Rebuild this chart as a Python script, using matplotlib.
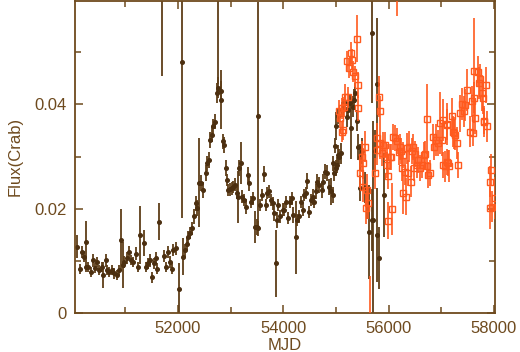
import matplotlib
matplotlib.use("Agg")
import matplotlib.pyplot as plt
from matplotlib.ticker import MultipleLocator, FixedLocator, FuncFormatter

plt.rcParams['font.family'] = ['Liberation Sans', 'DejaVu Sans']

# brown series (long-term monitor, ends ~MJD 55900)
asm_mjd = [50075, 50138, 50176, 50214, 50246, 50252, 50296, 50341, 50379, 50423,
           50467, 50505, 50550, 50581, 50626, 50657, 50695, 50740, 50784, 50835,
           50879, 50917, 50949, 50980, 51025, 51075, 51107, 51151, 51202, 51246,
           51278, 51354, 51392, 51436, 51468, 51500, 51544, 51582, 51607, 51645,
           51734, 51772, 51810, 51848, 51880, 51911, 51962, 52025, 52070, 52101,
           52133, 52165, 52196, 52228, 52260, 52304, 52336, 52367, 52399, 52431,
           52475, 52526, 52557, 52589, 52608, 52640, 52671, 52703, 52735, 52766,
           52811, 52817, 52861, 52880, 52912, 52937, 52956, 52988, 53020, 53051,
           53083, 53115, 53134, 53159, 53191, 53210, 53254, 53292, 53324, 53355,
           53387, 53419, 53463, 53495, 53514, 53526, 53558, 53590, 53634, 53672,
           53697, 53735, 53767, 53799, 53830, 53856, 53875, 53906, 53938, 53989,
           54014, 54052, 54096, 54128, 54160, 54191, 54236, 54267, 54299, 54337,
           54369, 54400, 54432, 54457, 54495, 54527, 54559, 54584, 54622, 54647,
           54685, 54730, 54749, 54793, 54825, 54875, 54907, 54939, 54951, 54964,
           54983, 54996, 55002, 55027, 55046, 55046, 55065, 55091, 55110, 55141,
           55173, 55205, 55236, 55268, 55281, 55319, 55344, 55363, 55395, 55426,
           55458, 55490, 55458, 55553, 55597, 55635, 55680, 55686, 55711, 55743,
           55775, 55787, 55825, 55914, 51702, 52766]
asm_flux = [0.0127, 0.0084, 0.0117, 0.0108, 0.0137, 0.0088, 0.0088, 0.0079, 0.0101, 0.0086,
            0.0098, 0.0082, 0.0088, 0.0073, 0.0101, 0.0082, 0.0079, 0.0082, 0.0076, 0.0073,
            0.0082, 0.0140, 0.0092, 0.0098, 0.0105, 0.0117, 0.0101, 0.0098, 0.0114, 0.0088,
            0.0149, 0.0135, 0.0088, 0.0095, 0.0101, 0.0068, 0.0095, 0.0105, 0.0085, 0.0175,
            0.0109, 0.0088, 0.0117, 0.0098, 0.0085, 0.0121, 0.0124, 0.0045, 0.0482, 0.0108,
            0.0120, 0.0133, 0.0146, 0.0153, 0.0162, 0.0185, 0.0210, 0.0201, 0.0250, 0.0249,
            0.0236, 0.0268, 0.0287, 0.0294, 0.0332, 0.0342, 0.0358, 0.0367, 0.0422, 0.0432,
            0.0425, 0.0409, 0.0329, 0.0322, 0.0278, 0.0255, 0.0236, 0.0237, 0.0239, 0.0242,
            0.0246, 0.0230, 0.0223, 0.0278, 0.0287, 0.0223, 0.0217, 0.0204, 0.0265, 0.0249,
            0.0213, 0.0220, 0.0165, 0.0165, 0.0377, 0.0162, 0.0207, 0.0226, 0.0267, 0.0207,
            0.0230, 0.0233, 0.0217, 0.0210, 0.0191, 0.0095, 0.0178, 0.0207, 0.0185, 0.0198,
            0.0198, 0.0213, 0.0182, 0.0213, 0.0220, 0.0188, 0.0145, 0.0178, 0.0185, 0.0213,
            0.0198, 0.0226, 0.0230, 0.0253, 0.0194, 0.0217, 0.0223, 0.0213, 0.0233, 0.0252,
            0.0246, 0.0236, 0.0252, 0.0271, 0.0268, 0.0242, 0.0233, 0.0226, 0.0287, 0.0268,
            0.0321, 0.0359, 0.0278, 0.0284, 0.0303, 0.0378, 0.0300, 0.0306, 0.0390, 0.0395,
            0.0403, 0.0376, 0.0390, 0.0403, 0.0355, 0.0396, 0.0409, 0.0422, 0.0369, 0.0319,
            0.0300, 0.0310, 0.0239, 0.0240, 0.0211, 0.0156, 0.0178, 0.0537, 0.0178, 0.0310,
            0.0150, 0.0439, 0.0105, 0.0226, 0.0800, 0.0750]
asm_err = [0.0022, 0.0010, 0.0012, 0.0010, 0.0040, 0.0010, 0.0010, 0.0010, 0.0012, 0.0010,
           0.0010, 0.0010, 0.0010, 0.0025, 0.0012, 0.0010, 0.0010, 0.0010, 0.0010, 0.0010,
           0.0010, 0.0060, 0.0045, 0.0012, 0.0012, 0.0012, 0.0010, 0.0010, 0.0012, 0.0010,
           0.0056, 0.0025, 0.0010, 0.0010, 0.0012, 0.0010, 0.0010, 0.0012, 0.0010, 0.0035,
           0.0012, 0.0010, 0.0012, 0.0012, 0.0010, 0.0012, 0.0012, 0.0050, 0.0300, 0.0035,
           0.0012, 0.0012, 0.0012, 0.0012, 0.0012, 0.0015, 0.0015, 0.0015, 0.0085, 0.0015,
           0.0015, 0.0015, 0.0015, 0.0015, 0.0015, 0.0015, 0.0015, 0.0015, 0.0020, 0.0020,
           0.0020, 0.0057, 0.0015, 0.0015, 0.0015, 0.0012, 0.0012, 0.0012, 0.0012, 0.0012,
           0.0012, 0.0012, 0.0050, 0.0015, 0.0040, 0.0012, 0.0012, 0.0015, 0.0015, 0.0015,
           0.0012, 0.0012, 0.0030, 0.0015, 0.0220, 0.0015, 0.0012, 0.0012, 0.0015, 0.0012,
           0.0012, 0.0012, 0.0012, 0.0012, 0.0015, 0.0065, 0.0015, 0.0012, 0.0012, 0.0012,
           0.0012, 0.0012, 0.0012, 0.0012, 0.0012, 0.0015, 0.0070, 0.0012, 0.0012, 0.0012,
           0.0012, 0.0012, 0.0012, 0.0015, 0.0012, 0.0012, 0.0015, 0.0012, 0.0015, 0.0015,
           0.0015, 0.0015, 0.0015, 0.0015, 0.0015, 0.0015, 0.0025, 0.0015, 0.0015, 0.0015,
           0.0015, 0.0027, 0.0015, 0.0015, 0.0020, 0.0015, 0.0015, 0.0020, 0.0015, 0.0015,
           0.0015, 0.0020, 0.0015, 0.0015, 0.0060, 0.0020, 0.0020, 0.0020, 0.0020, 0.0025,
           0.0025, 0.0025, 0.0025, 0.0030, 0.0030, 0.0090, 0.0060, 0.0135, 0.0190, 0.0040,
           0.0090, 0.0126, 0.0060, 0.0080, 0.0345, 0.0310]

# orange series (starts ~MJD 55060)
maxi_mjd = [55065, 55078, 55110, 55110, 55141, 55154, 55173, 55205, 55236, 55255,
            55281, 55300, 55319, 55363, 55395, 55414, 55426, 55458, 55490, 55509,
            55521, 55553, 55572, 55585, 55616, 55743, 55775, 55775, 55819, 55838,
            55838, 55870, 55901, 55933, 55965, 55965, 55984, 55996, 56028, 56047,
            56072, 56091, 56123, 56155, 56199, 56218, 56230, 56250, 56281, 56281,
            56313, 56327, 56345, 56364, 56395, 56427, 56440, 56471, 56490, 56503,
            56535, 56566, 56598, 56630, 56680, 56693, 56725, 56725, 56756, 56788,
            56839, 56864, 56902, 56946, 56978, 57010, 57041, 57041, 57073, 57105,
            57105, 57117, 57136, 57155, 57200, 57219, 57250, 57263, 57295, 57314,
            57345, 57390, 57421, 57453, 57485, 57548, 57580, 57592, 57611, 57624,
            57643, 57687, 57719, 57738, 57770, 57789, 57801, 57814, 57846, 57865,
            57915, 57928, 57941, 57960, 58010, 56166, 55648]
maxi_flux = [0.0388, 0.0374, 0.0393, 0.0348, 0.0351, 0.0395, 0.0414, 0.0483, 0.0414, 0.0470,
             0.0499, 0.0486, 0.0463, 0.0454, 0.0526, 0.0437, 0.0393, 0.0269, 0.0300, 0.0287,
             0.0242, 0.0319, 0.0201, 0.0236, 0.0210, 0.0268, 0.0335, 0.0313, 0.0415, 0.0387,
             0.0326, 0.0306, 0.0322, 0.0322, 0.0300, 0.0284, 0.0262, 0.0177, 0.0300, 0.0300,
             0.0199, 0.0338, 0.0335, 0.0329, 0.0308, 0.0319, 0.0310, 0.0278, 0.0303, 0.0230,
             0.0271, 0.0223, 0.0316, 0.0269, 0.0319, 0.0252, 0.0310, 0.0319, 0.0278, 0.0305,
             0.0284, 0.0294, 0.0278, 0.0284, 0.0303, 0.0305, 0.0372, 0.0281, 0.0265, 0.0268,
             0.0337, 0.0319, 0.0332, 0.0326, 0.0364, 0.0332, 0.0370, 0.0284, 0.0281, 0.0361,
             0.0290, 0.0363, 0.0287, 0.0282, 0.0377, 0.0348, 0.0345, 0.0342, 0.0326, 0.0284,
             0.0383, 0.0401, 0.0387, 0.0399, 0.0428, 0.0348, 0.0406, 0.0345, 0.0413, 0.0465,
             0.0374, 0.0463, 0.0441, 0.0448, 0.0422, 0.0412, 0.0367, 0.0369, 0.0437, 0.0358,
             0.0201, 0.0252, 0.0274, 0.0204, 0.0220, 0.0750, -0.0120]
maxi_err = [0.0020, 0.0020, 0.0020, 0.0020, 0.0020, 0.0020, 0.0025, 0.0020, 0.0020, 0.0020,
            0.0020, 0.0020, 0.0020, 0.0020, 0.0045, 0.0025, 0.0025, 0.0030, 0.0030, 0.0030,
            0.0030, 0.0030, 0.0030, 0.0030, 0.0030, 0.0030, 0.0030, 0.0030, 0.0040, 0.0030,
            0.0030, 0.0025, 0.0025, 0.0025, 0.0025, 0.0025, 0.0025, 0.0035, 0.0025, 0.0025,
            0.0050, 0.0025, 0.0025, 0.0025, 0.0025, 0.0025, 0.0025, 0.0025, 0.0025, 0.0040,
            0.0025, 0.0035, 0.0030, 0.0025, 0.0030, 0.0030, 0.0025, 0.0025, 0.0025, 0.0025,
            0.0025, 0.0025, 0.0025, 0.0025, 0.0025, 0.0025, 0.0067, 0.0025, 0.0025, 0.0025,
            0.0025, 0.0025, 0.0030, 0.0025, 0.0060, 0.0030, 0.0040, 0.0025, 0.0030, 0.0030,
            0.0025, 0.0040, 0.0025, 0.0030, 0.0035, 0.0030, 0.0030, 0.0030, 0.0030, 0.0025,
            0.0035, 0.0030, 0.0030, 0.0030, 0.0040, 0.0030, 0.0030, 0.0025, 0.0030, 0.0100,
            0.0030, 0.0030, 0.0030, 0.0030, 0.0035, 0.0030, 0.0030, 0.0025, 0.0035, 0.0030,
            0.0040, 0.0030, 0.0030, 0.0030, 0.0040, 0.0180, 0.0190]

y_major = [0, 0.02, 0.04]

brown = "#4c2f10"
axcol = "#6e4a1e"
orange = "#ff5a1e"

fig = plt.figure(figsize=(5.2, 3.52), dpi=100)
ax = fig.add_axes([0.144, 0.111, 0.808, 0.887])

ax.errorbar(asm_mjd, asm_flux, yerr=asm_err, fmt="o", color=brown, ecolor="#5e3e18",
            ms=2.6, elinewidth=1.3, capsize=0, zorder=2)
ax.errorbar(maxi_mjd, maxi_flux, yerr=maxi_err, fmt="s", color=orange, mfc="none",
            mec=orange, ms=5, mew=1.0, elinewidth=1.2, capsize=0, zorder=3)

ax.set_xlim(50040, 58020)
ax.set_ylim(0, 0.0599)
ax.xaxis.set_major_locator(MultipleLocator(2000))
ax.xaxis.set_minor_locator(MultipleLocator(1000))
ax.yaxis.set_major_locator(FixedLocator(y_major))
ax.yaxis.set_minor_locator(FixedLocator([0.01, 0.03, 0.05]))
ax.yaxis.set_major_formatter(FuncFormatter(lambda v, p: "0" if abs(v) < 1e-9 else f"{v:.2f}"))

for s in ax.spines.values():
    s.set_color(axcol)
    s.set_linewidth(1.3)
ax.tick_params(which="both", direction="in", top=True, right=True, colors=axcol,
               labelsize=12, labelcolor=axcol)
ax.tick_params(which="major", length=6, width=1.1, pad=6)
ax.tick_params(which="minor", length=4, width=1.1)

ax.set_xlabel("MJD", fontsize=12, color=axcol, labelpad=1)
ax.set_ylabel("Flux(Crab)", fontsize=12, color=axcol, labelpad=8)

fig.savefig("out.png", dpi=100)
